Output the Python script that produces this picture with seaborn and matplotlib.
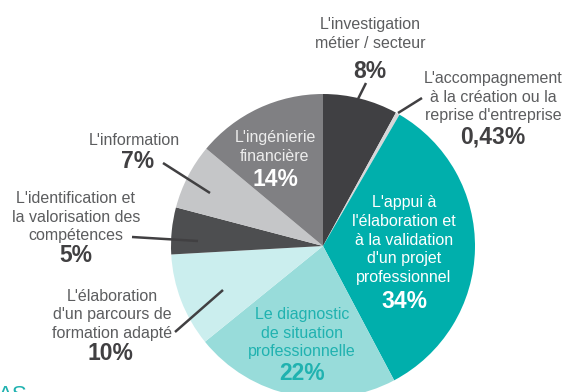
import numpy as np
import pandas as pd
import matplotlib
matplotlib.use("Agg")
import matplotlib.pyplot as plt
import seaborn as sns

categories = ["L'investigation\nmétier / secteur",
              "L'accompagnement\nà la création ou la\nreprise d'entreprise",
              "L'appui à\nl'élaboration et\nà la validation\nd'un projet\nprofessionnel",
              "Le diagnostic\nde situation\nprofessionnelle",
              "L'élaboration\nd'un parcours de\nformation adapté",
              "L'identification et\nla valorisation des\ncompétences",
              "L'information",
              "L'ingénierie\nfinancière"]
values = [8, 0.43, 34, 22, 10, 5, 7, 14]
pct_labels = ["8%", "0,43%", "34%", "22%", "10%", "5%", "7%", "14%"]
colors = ["#404043", "#d6d6d8", "#00afac", "#98dcda", "#cbeeee", "#4d4e50", "#c5c6c8", "#808083"]

sns.set_theme(style="white")
plt.rcParams['font.family'] = ['Liberation Sans', 'DejaVu Sans']

W, H = 566, 392
fig = plt.figure(figsize=(W / 100, H / 100), dpi=100)
ax = fig.add_axes([0, 0, 1, 1])

def Y(yp):
    # pixel row -> data y
    return H - yp

ax.pie(values, colors=colors, startangle=90, counterclock=False,
       center=(323, Y(246)), radius=152, frame=True,
       wedgeprops=dict(linewidth=0))
ax.set_xlim(0, W)
ax.set_ylim(0, H)
ax.axis("off")

grey = "#5c5d5f"
dark = "#414042"
fs = 11.5
pfs = 16.5

# text: (label_x, label_y, pct_x, pct_y, label color, pct color)
text_pos = [
    (370, 34, 370, 71, grey, dark),
    (493, 97, 493, 137, grey, dark),
    (404, 240, 404, 302, "#ffffff", "#ffffff"),
    (302, 333, 302, 374, "#20b2b0", "#20b2b0"),
    (112, 315, 110, 354, grey, dark),
    (76, 217, 76, 256, grey, dark),
    (134, 140, 138, 161, grey, dark),
    (275, 147, 275, 179, "#ececec", "#ffffff"),
]
for cat, pct, (lx, ly, px, py, lc, pc) in zip(categories, pct_labels, text_pos):
    ax.text(lx, Y(ly), cat, ha="center", va="center", fontsize=fs,
            color=lc, linespacing=1.32)
    ax.text(px, Y(py), pct, ha="center", va="center", fontsize=pfs,
            color=pc, fontweight="bold")

# leader lines
leaders = [((366, 83), (358, 99)),
           ((398, 113), (422, 98)),
           ((163, 163), (210, 193)),
           ((132, 237), (198, 241)),
           ((175, 332), (223, 290))]
for (x0, y0), (x1, y1) in leaders:
    ax.plot([x0, x1], [Y(y0), Y(y1)], color=dark, linewidth=1.8,
            solid_capstyle="butt")

ax.text(-2, Y(385), "AS", ha="left", va="top", fontsize=16, color="#20b2b0",
        clip_on=False)

fig.savefig("out.png", dpi=100)
